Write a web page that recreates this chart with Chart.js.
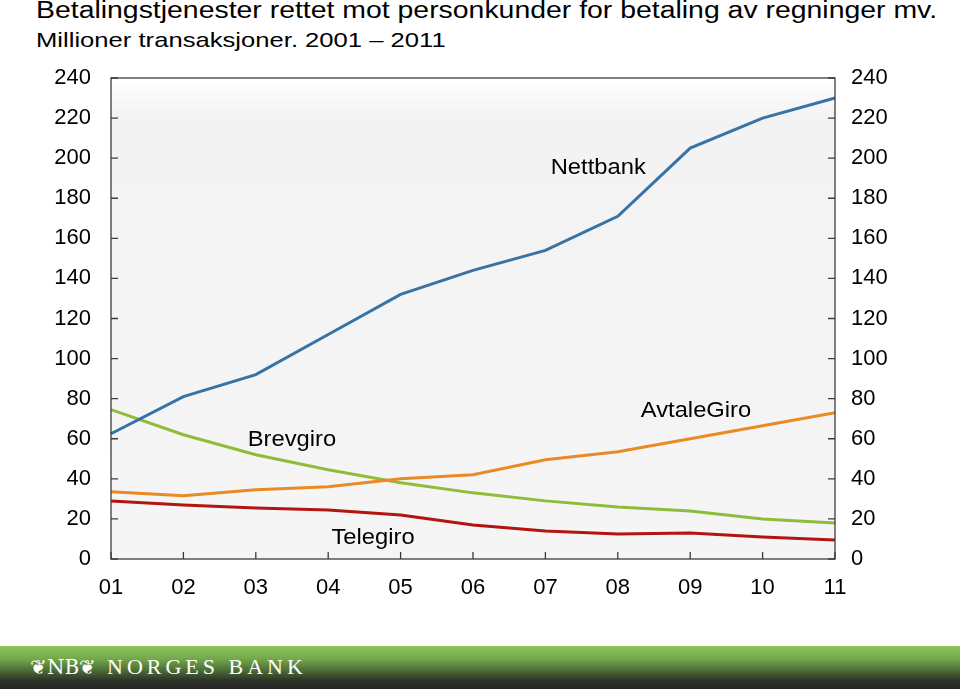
<!DOCTYPE html>
<html><head><meta charset="utf-8">
<script src="https://cdn.jsdelivr.net/npm/chart.js@4.4.1/dist/chart.umd.min.js"></script>
<style>
html,body{margin:0;padding:0;background:#fff;width:960px;height:689px;overflow:hidden;font-family:"Liberation Sans",Arial,sans-serif;}
#t1{position:absolute;left:36px;top:-1px;font-size:23px;line-height:1;color:#000;white-space:nowrap;transform:scaleX(1.235);transform-origin:0 0;}
#t2{position:absolute;left:36px;top:29px;font-size:21px;line-height:1;color:#000;white-space:nowrap;transform:scaleX(1.22);transform-origin:0 0;}
#wrap{position:absolute;left:0;top:0;width:960px;height:640px;}
#foot{position:absolute;left:0;top:646px;width:960px;height:43px;background:linear-gradient(#8dc55b 0%,#74a84b 30%,#4a6a36 58%,#2c3329 80%,#262626 100%);}
#logo{position:absolute;left:30px;top:9px;color:#fff;font-family:"DejaVu Serif",serif;font-size:20px;}
#bank{position:absolute;left:107px;top:8px;color:#fff;font-family:"Liberation Serif",serif;font-size:22px;letter-spacing:4px;}
</style></head><body>
<div id="t1">Betalingstjenester rettet mot personkunder for betaling av regninger mv.</div>
<div id="t2">Millioner transaksjoner. 2001 – 2011</div>
<div id="wrap"><canvas id="c" width="960" height="640"></canvas></div>
<div id="foot"><span id="logo">❦NB❦</span><span id="bank">NORGES BANK</span></div>
<script>
const years = ["01","02","03","04","05","06","07","08","09","10","11"];
const nettbank   = [62.5, 81, 92, 112, 132, 144, 154, 171, 205, 220, 230];
const avtaleGiro = [33.5, 31.5, 34.5, 36, 40, 42, 49.5, 53.5, 60, 66.5, 73];
const brevgiro   = [74.5, 62, 52, 44.5, 38, 33, 29, 26, 24, 20, 18];
const telegiro   = [29, 27, 25.5, 24.5, 22, 17, 14, 12.5, 13, 11, 9.5];
const yTicks = [0,20,40,60,80,100,120,140,160,180,200,220,240];
const seriesLabels = [
  {text:"Nettbank", x:6.73, y:195},
  {text:"AvtaleGiro", x:8.08, y:74},
  {text:"Brevgiro", x:2.5, y:59.5},
  {text:"Telegiro", x:3.62, y:10.5}
];

const FONT = {family:"'Liberation Sans', Arial, sans-serif", size:22};

const decor = {
  id:'decor',
  beforeDatasetsDraw(chart){
    const {ctx, chartArea:a} = chart;
    ctx.save();
    const g = ctx.createLinearGradient(0,a.top,0,a.bottom);
    g.addColorStop(0,'#ffffff');
    g.addColorStop(0.08,'#f3f3f3');
    g.addColorStop(1,'#f5f5f5');
    ctx.fillStyle = g;
    ctx.fillRect(a.left,a.top,a.right-a.left,a.bottom-a.top);
    ctx.restore();
  },
  afterDatasetsDraw(chart){
    const {ctx, chartArea:a, scales} = chart;
    ctx.save();
    ctx.strokeStyle = '#3c3c3c';
    ctx.lineWidth = 1.3;
    ctx.strokeRect(a.left,a.top,a.right-a.left,a.bottom-a.top);
    ctx.beginPath();
    yTicks.forEach(v=>{
      const y = scales.y.getPixelForValue(v);
      ctx.moveTo(a.left,y); ctx.lineTo(a.left+7,y);
      ctx.moveTo(a.right,y); ctx.lineTo(a.right-7,y);
    });
    years.forEach((l,i)=>{
      const x = scales.x.getPixelForValue(i);
      ctx.moveTo(x,a.bottom); ctx.lineTo(x,a.bottom-7);
    });
    ctx.stroke();
    ctx.fillStyle = '#000';
    ctx.textAlign = 'center';
    ctx.textBaseline = 'middle';
    seriesLabels.forEach(s=>{
      const x = scales.x.getPixelForValue(s.x), y = scales.y.getPixelForValue(s.y);
      ctx.save();
      ctx.translate(x,y);
      ctx.scale(1.08,1);
      ctx.font = "22px 'Liberation Sans', Arial, sans-serif";
      ctx.fillText(s.text, 0, 0);
      ctx.restore();
    });
    ctx.restore();
  }
};

const ds = (label,data,color)=>({label,data,borderColor:color,backgroundColor:color,borderWidth:3,pointRadius:0,tension:0,fill:false});

new Chart(document.getElementById('c'),{
  type:'line',
  data:{labels:years,datasets:[
    ds('Nettbank',nettbank,'#3773a5'),
    ds('AvtaleGiro',avtaleGiro,'#e98a26'),
    ds('Brevgiro',brevgiro,'#8dbd3b'),
    ds('Telegiro',telegiro,'#b2150f')
  ]},
  options:{
    responsive:false,animation:false,
    layout:{padding:{top:78,left:0,right:0,bottom:0}},
    plugins:{legend:{display:false},tooltip:{enabled:false}},
    scales:{
      x:{type:'category',offset:false,
        grid:{display:false,drawTicks:false},border:{display:false},
        ticks:{color:'#000',font:FONT,padding:16,maxRotation:0,autoSkip:false},
        afterFit(s){s.height=81;}
      },
      y:{position:'left',min:0,max:240,
        grid:{display:false,drawTicks:false},border:{display:false},
        ticks:{stepSize:20,color:'#000',font:FONT,padding:20},
        afterFit(s){s.width=111;}
      },
      y2:{position:'right',min:0,max:240,
        grid:{display:false,drawTicks:false},border:{display:false},
        ticks:{stepSize:20,color:'#000',font:FONT,padding:16},
        afterFit(s){s.width=125;}
      }
    }
  },
  plugins:[decor]
});
</script>
</body></html>
